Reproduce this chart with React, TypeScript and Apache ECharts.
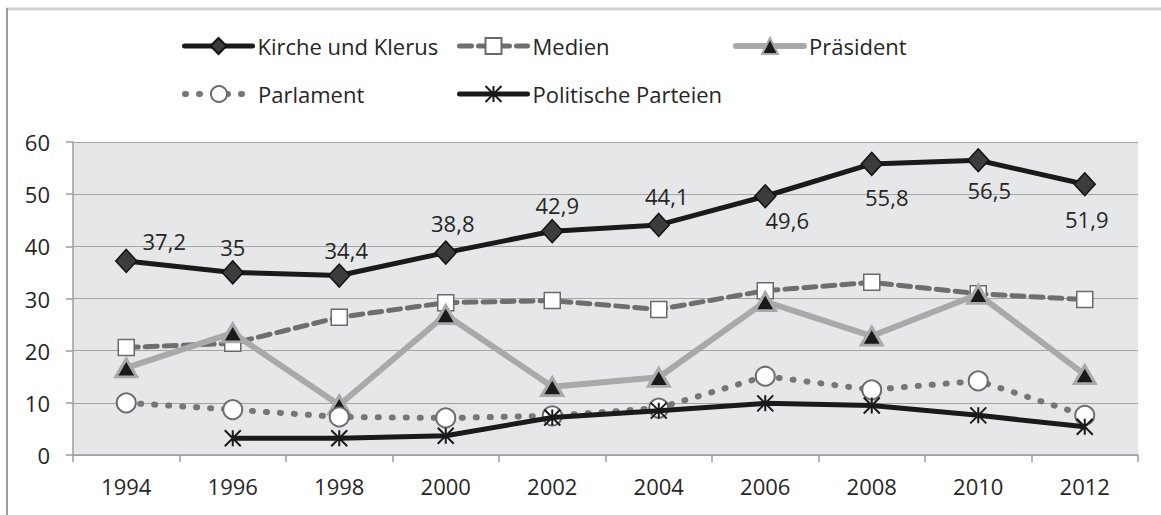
import React, { useEffect, useRef } from "react";
import * as echarts from "echarts";

const years = ["1994", "1996", "1998", "2000", "2002", "2004", "2006", "2008", "2010", "2012"];
const kirche = [37.2, 35, 34.4, 38.8, 42.9, 44.1, 49.6, 55.8, 56.5, 51.9];
const medien = [20.6, 21.4, 26.4, 29.2, 29.6, 27.9, 31.5, 33.1, 30.9, 29.8];
const praesident = [16.7, 23.4, 9.6, 26.9, 13.1, 14.9, 29.4, 22.8, 30.8, 15.4];
const parlament = [10.0, 8.7, 7.3, 7.1, 7.5, 9.0, 15.1, 12.5, 14.2, 7.6];
const parteien = [null, 3.2, 3.2, 3.7, 7.2, 8.5, 9.9, 9.5, 7.6, 5.4];
const yTicks = [0, 10, 20, 30, 40, 50, 60];

const names = ["Kirche und Klerus", "Medien", "Präsident", "Parlament", "Politische Parteien"];

// label offsets (style) for Kirche data labels
const kircheLabelOffsets = [
  [38, -20], [0, -25], [7, -26], [7, -30], [5, -26],
  [8, -29], [22, 24], [15, 33], [11, 30], [2, 35],
];

const FONT = "'Open Sans', sans-serif";
const TEXT = "#262626";

export default function App() {
  const ref = useRef<HTMLDivElement>(null);
  useEffect(() => {
    if (!ref.current) return;
    const chart = echarts.init(ref.current, null, { renderer: "svg" });
    const fmt = (v: number) => String(v).replace(".", ",");
    const legendPos = [
      { left: 182, top: 35 },
      { left: 457, top: 35 },
      { left: 733, top: 35 },
      { left: 182, top: 83 },
      { left: 457, top: 83 },
    ];
    const option: any = {
      animation: false,
      backgroundColor: "#ffffff",
      textStyle: { fontFamily: FONT },
      legend: names.map((n, i) => ({
        data: [n],
        left: legendPos[i].left,
        top: legendPos[i].top,
        padding: 0,
        itemWidth: 68,
        itemHeight: 20,
        lineStyle: { width: "inherit", type: "inherit", cap: "round" },
        textStyle: { fontSize: 22, color: TEXT, fontFamily: FONT },
        selectedMode: false,
      })),
      grid: {
        left: 73,
        right: 23,
        top: 142,
        bottom: 60,
        show: true,
        backgroundColor: "#e6e7e9",
        borderWidth: 0,
      },
      xAxis: {
        type: "category",
        data: years,
        boundaryGap: true,
        axisLine: { show: true, lineStyle: { color: "#9e9e9e", width: 1.5 } },
        axisTick: { show: true, length: 7, lineStyle: { color: "#9e9e9e", width: 1.5 } },
        axisLabel: { fontSize: 22, color: TEXT, margin: 20, fontFamily: FONT },
        splitLine: { show: false },
      },
      yAxis: {
        type: "value",
        min: yTicks[0],
        max: yTicks[yTicks.length - 1],
        interval: 10,
        axisLine: { show: true, lineStyle: { color: "#9e9e9e", width: 1.5 } },
        axisTick: { show: true, length: 7, lineStyle: { color: "#9e9e9e", width: 1.5 } },
        axisLabel: { fontSize: 22, color: TEXT, margin: 23, fontFamily: FONT },
        splitLine: { show: true, lineStyle: { color: "#a4a4a4", width: 1.2 } },
      },
      graphic: [
        { type: "line", shape: { x1: 6, y1: 9, x2: 1161, y2: 9 }, style: { stroke: "#d2d2d2", lineWidth: 3 }, silent: true },
        { type: "line", shape: { x1: 7, y1: 8, x2: 7, y2: 515 }, style: { stroke: "#9a9a9a", lineWidth: 2 }, silent: true },
      ],
      series: [
        {
          name: names[0],
          type: "line",
          data: kirche.map((v, i) => ({
            value: v,
            label: { offset: kircheLabelOffsets[i] },
          })),
          symbol: "diamond",
          symbolSize: [21, 23],
          lineStyle: { color: "#1a1a1a", width: 5 },
          itemStyle: { color: "#3c3c3c", borderColor: "#111111", borderWidth: 1.5 },
          label: {
            show: true,
            position: "inside",
            fontSize: 22,
            color: TEXT,
            fontFamily: FONT,
            formatter: (p: any) => fmt(p.value),
          },
          z: 6,
        },
        {
          name: names[1],
          type: "line",
          data: medien,
          symbol: "rect",
          symbolSize: 16,
          lineStyle: { color: "#6e6e6e", width: 5, type: [12, 7], cap: "round" },
          itemStyle: { color: "#ffffff", borderColor: "#6a6a6a", borderWidth: 1.5 },
          z: 2,
        },
        {
          name: names[2],
          type: "line",
          data: praesident,
          symbol: "triangle",
          symbolSize: [21, 18],
          lineStyle: { color: "#a9a9a9", width: 6 },
          itemStyle: { color: "#1a1a1a", borderColor: "#a9a9a9", borderWidth: 3 },
          z: 3,
        },
        {
          name: names[3],
          type: "line",
          data: parlament,
          symbol: "circle",
          symbolSize: 19,
          lineStyle: { color: "#767676", width: 6, type: [1, 13], cap: "round" },
          itemStyle: { color: "#ffffff", borderColor: "#6d6d6d", borderWidth: 2 },
          z: 4,
        },
        {
          name: names[4],
          type: "line",
          data: parteien,
          connectNulls: false,
          symbol: "path://M0,0L16,16M16,0L0,16M8,0L8,16",
          symbolSize: 16,
          lineStyle: { color: "#1a1a1a", width: 5 },
          itemStyle: { color: "#1a1a1a", borderColor: "#1a1a1a", borderWidth: 2 },
          z: 5,
        },
      ],
    };
    chart.setOption(option);
    return () => chart.dispose();
  }, []);
  return (
    <div
      ref={ref}
      style={{ position: "fixed", left: 0, top: 0, width: 1161, height: 515, background: "#fff" }}
    />
  );
}
